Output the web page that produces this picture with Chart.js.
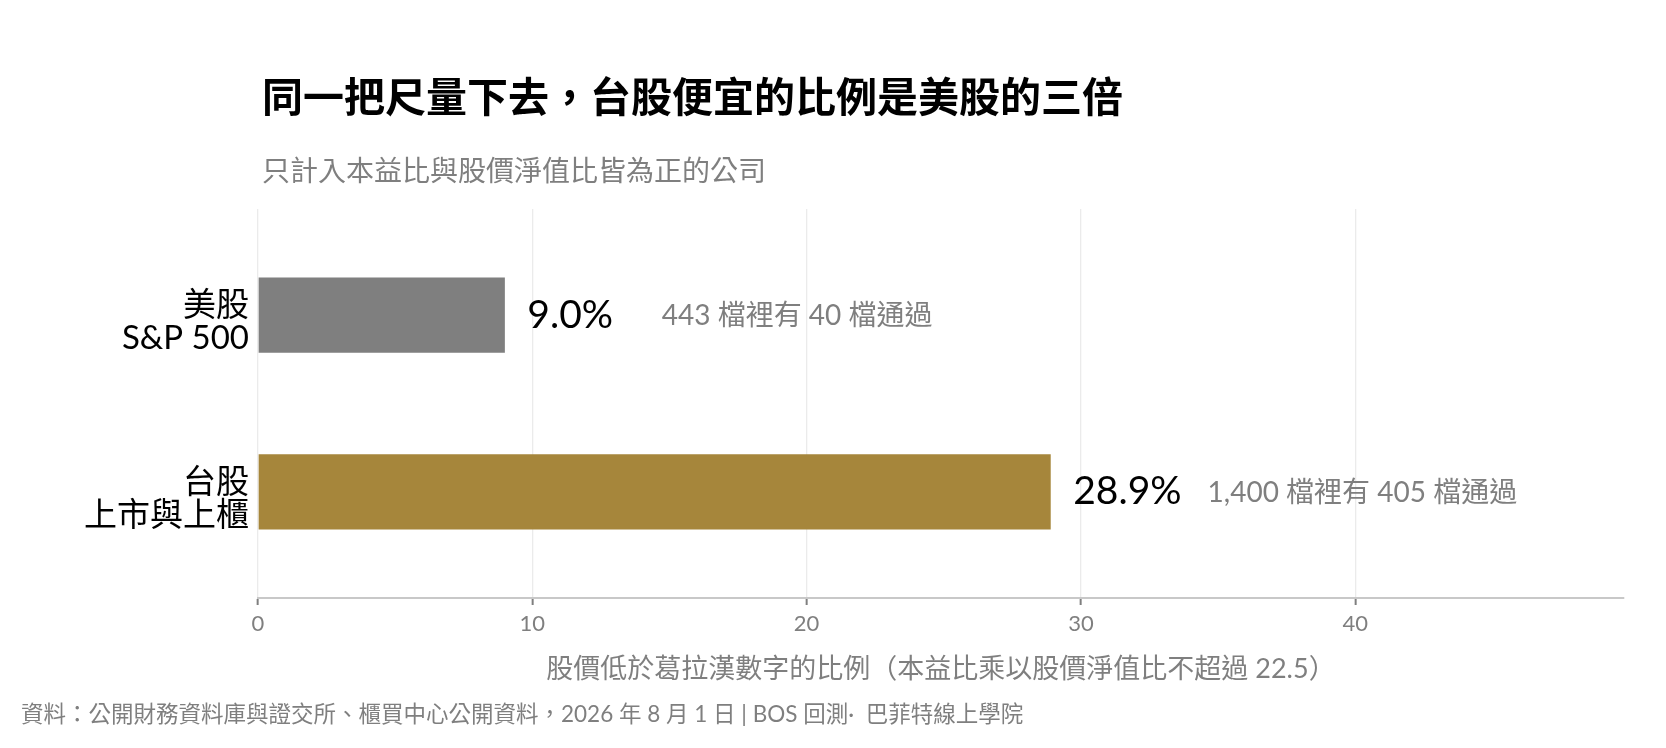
<!DOCTYPE html>
<html>
<head>
<meta charset="utf-8">
<script src="https://cdn.jsdelivr.net/npm/chart.js@4.4.1/dist/chart.umd.min.js"></script>
<style>
  html, body { margin: 0; padding: 0; background: #ffffff; }
  #wrap { width: 1666px; height: 748px; position: relative; }
</style>
</head>
<body>
<div id="wrap"><canvas id="c" width="1666" height="748"></canvas></div>
<script>
// ---- data ----
const categories = [["美股", "S&P 500"], ["台股", "上市與上櫃"]];
const values = [9.0, 28.9];
const totals = ["443", "1,400"];
const passed = ["40", "405"];
const barColors = ["#7f7f7f", "#a6863b"];
const xTicks = [0, 10, 20, 30, 40];

const titleText = "同一把尺量下去，台股便宜的比例是美股的三倍";
const subtitleText = "只計入本益比與股價淨值比皆為正的公司";
const xTitleText = "股價低於葛拉漢數字的比例（本益比乘以股價淨值比不超過 22.5）";
const captionText = "資料：公開財務資料庫與證交所、櫃買中心公開資料，2026 年 8 月 1 日 | BOS 回測·  巴菲特線上學院";

const FONT = "'Lato', 'Noto Sans CJK TC', sans-serif";
const GRAY = "#7f7f7f";

const textPlugin = {
  id: 'texts',
  afterDatasetsDraw(chart) {
    const ctx = chart.ctx;
    const xs = chart.scales.x;
    const ys = chart.scales.y;
    ctx.save();
    ctx.textBaseline = 'middle';
    ctx.textAlign = 'left';
    values.forEach((v, i) => {
      const y = ys.getPixelForValue(i + 1);
      ctx.fillStyle = '#000000';
      ctx.font = "39px " + FONT;
      ctx.fillText(v.toFixed(1) + "%", xs.getPixelForValue(v + 0.82), y);
      ctx.fillStyle = GRAY;
      ctx.font = "28px " + FONT;
      ctx.fillText(totals[i] + " 檔裡有 " + passed[i] + " 檔通過", xs.getPixelForValue(v + 5.72), y + 1);
    });
    ctx.restore();
  },
  afterDraw(chart) {
    const ctx = chart.ctx;
    ctx.save();
    ctx.textBaseline = 'middle';
    ctx.textAlign = 'left';
    ctx.fillStyle = '#000000';
    ctx.font = "bold 41px " + FONT;
    ctx.fillText(titleText, 262, 99);
    ctx.fillStyle = GRAY;
    ctx.font = "28px " + FONT;
    ctx.fillText(subtitleText, 262, 172);
    ctx.font = "22.5px " + FONT;
    ctx.fillText(captionText, 21, 715);
    ctx.restore();
  }
};

new Chart(document.getElementById('c'), {
  type: 'bar',
  data: {
    datasets: [{
      data: values.map((v, i) => ({ x: v, y: i + 1 })),
      backgroundColor: barColors,
      borderWidth: 0,
      categoryPercentage: 1.0,
      barPercentage: 0.425
    }]
  },
  plugins: [textPlugin],
  options: {
    indexAxis: 'y',
    responsive: false,
    animation: false,
    devicePixelRatio: 1,
    layout: { padding: { left: 0, top: 209, right: 42, bottom: 60 } },
    plugins: { legend: { display: false }, tooltip: { enabled: false }, title: { display: false } },
    scales: {
      x: {
        type: 'linear',
        position: 'bottom',
        min: 0,
        max: 49.8,
        afterBuildTicks: (s) => { s.ticks = xTicks.map(v => ({ value: v })); },
        afterFit: (s) => { s.height = 90; },
        ticks: {
          color: GRAY,
          font: { family: FONT, size: 22 },
          padding: 6,
          maxRotation: 0,
          callback: (v) => String(v)
        },
        grid: {
          color: '#ebebeb',
          lineWidth: 1.3,
          drawTicks: true,
          tickLength: 7,
          tickColor: GRAY,
          tickWidth: 2
        },
        border: { display: true, color: '#c8c8c8', width: 2 },
        title: {
          display: true,
          text: xTitleText,
          color: GRAY,
          font: { family: FONT, size: 27 },
          padding: { top: 0, bottom: 3 }
        }
      },
      y: {
        type: 'linear',
        position: 'left',
        reverse: true,
        offset: false,
        min: 0.4,
        max: 2.6,
        afterBuildTicks: (s) => { s.ticks = categories.map((c, i) => ({ value: i + 1 })); },
        afterFit: (s) => { s.width = 258; },
        ticks: {
          color: '#000000',
          font: { family: FONT, size: 33, lineHeight: 1.0 },
          padding: 9,
          labelOffset: 7,
          callback: (v) => categories[Math.round(v) - 1]
        },
        grid: { display: false, drawTicks: false, offset: false },
        border: { display: false }
      }
    }
  }
});
</script>
</body>
</html>
